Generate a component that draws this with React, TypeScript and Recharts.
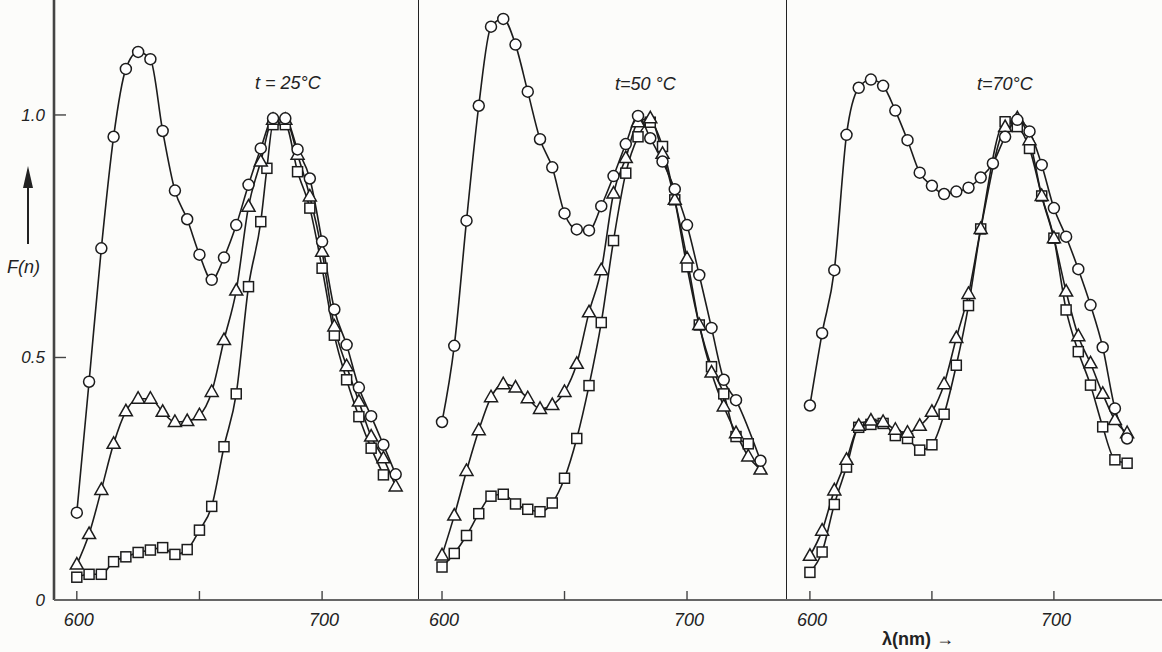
import React from 'react';
import { LineChart, Line, XAxis, YAxis, ReferenceLine } from 'recharts';

// t = 25 °C
const wl25Circle = [600, 605, 610, 615, 620, 625, 630, 635, 640, 645, 650, 655, 660, 665, 670, 675, 680, 685, 690, 695, 700, 705, 710, 715, 720, 725, 730];
const f25Circle = [0.18, 0.45, 0.725, 0.955, 1.095, 1.13, 1.115, 0.967, 0.844, 0.785, 0.712, 0.66, 0.706, 0.773, 0.856, 0.931, 0.993, 0.993, 0.929, 0.869, 0.739, 0.599, 0.526, 0.438, 0.379, 0.32, 0.259];
const wl25Triangle = [600, 605, 610, 615, 620, 625, 630, 635, 640, 645, 650, 655, 660, 665, 670, 675, 680, 685, 690, 695, 700, 705, 710, 715, 720, 725, 730];
const f25Triangle = [0.073, 0.136, 0.227, 0.322, 0.389, 0.415, 0.415, 0.388, 0.367, 0.369, 0.381, 0.429, 0.536, 0.638, 0.811, 0.904, 0.99, 0.99, 0.918, 0.832, 0.718, 0.564, 0.482, 0.409, 0.337, 0.292, 0.234];
const wl25Square = [600, 605, 610, 615, 620, 625, 630, 635, 640, 645, 650, 655, 660, 665, 670, 675, 677.5, 680, 685, 690, 695, 700, 705, 710, 715, 720, 725];
const f25Square = [0.047, 0.053, 0.053, 0.079, 0.089, 0.098, 0.103, 0.108, 0.094, 0.104, 0.144, 0.193, 0.316, 0.425, 0.646, 0.78, 0.89, 0.98, 0.98, 0.883, 0.808, 0.684, 0.546, 0.454, 0.378, 0.313, 0.258];

// t = 50 °C
const wl50Circle = [600, 605, 610, 615, 620, 625, 630, 635, 640, 645, 650, 655, 660, 665, 670, 675, 680, 685, 690, 695, 700, 705, 710, 715, 720, 730];
const f50Circle = [0.367, 0.524, 0.782, 1.019, 1.182, 1.198, 1.145, 1.048, 0.95, 0.892, 0.797, 0.764, 0.762, 0.812, 0.874, 0.94, 0.998, 0.952, 0.904, 0.847, 0.773, 0.67, 0.561, 0.454, 0.412, 0.287];
const wl50Triangle = [600, 605, 610, 615, 620, 625, 630, 635, 640, 645, 650, 655, 660, 665, 670, 675, 680, 685, 690, 695, 700, 705, 710, 715, 720, 725, 730];
const f50Triangle = [0.092, 0.174, 0.266, 0.35, 0.418, 0.445, 0.438, 0.416, 0.394, 0.402, 0.429, 0.487, 0.593, 0.68, 0.838, 0.911, 0.985, 0.993, 0.92, 0.825, 0.704, 0.567, 0.469, 0.399, 0.344, 0.296, 0.269];
const wl50Square = [600, 605, 610, 615, 620, 625, 630, 635, 640, 645, 650, 655, 660, 665, 670, 675, 680, 685, 690, 695, 700, 705, 710, 715, 720, 725];
const f50Square = [0.068, 0.096, 0.133, 0.178, 0.214, 0.218, 0.198, 0.187, 0.182, 0.2, 0.251, 0.333, 0.442, 0.572, 0.741, 0.88, 0.955, 0.985, 0.935, 0.825, 0.687, 0.567, 0.481, 0.425, 0.337, 0.322];

// t = 70 °C
const wl70Circle = [600, 605, 610, 615, 620, 625, 630, 635, 640, 645, 650, 655, 660, 665, 670, 675, 680, 685, 690, 695, 700, 705, 710, 715, 720, 725, 730];
const f70Circle = [0.401, 0.55, 0.68, 0.959, 1.056, 1.073, 1.06, 1.009, 0.948, 0.881, 0.854, 0.837, 0.842, 0.85, 0.871, 0.9, 0.955, 0.99, 0.966, 0.897, 0.808, 0.749, 0.682, 0.608, 0.521, 0.395, 0.333];
const wl70Triangle = [600, 605, 610, 615, 620, 625, 630, 635, 640, 645, 650, 655, 660, 665, 670, 680, 685, 690, 695, 700, 705, 710, 715, 720, 725, 730];
const f70Triangle = [0.091, 0.143, 0.226, 0.289, 0.359, 0.37, 0.367, 0.351, 0.345, 0.359, 0.388, 0.445, 0.54, 0.631, 0.765, 0.975, 0.993, 0.948, 0.833, 0.746, 0.636, 0.544, 0.488, 0.425, 0.371, 0.344];
const wl70Square = [600, 605, 610, 615, 620, 625, 630, 635, 640, 645, 650, 655, 660, 665, 670, 680, 685, 690, 695, 700, 705, 710, 715, 720, 725, 730];
const f70Square = [0.057, 0.099, 0.197, 0.274, 0.356, 0.362, 0.364, 0.339, 0.333, 0.309, 0.32, 0.383, 0.484, 0.607, 0.765, 0.986, 0.976, 0.931, 0.833, 0.746, 0.598, 0.512, 0.443, 0.357, 0.289, 0.282];

const xTicks = [600, 650, 700];
const xLabels = [600, 700];
const yTicks = [0, 0.5, 1.0];

const INK = '#1c1c1c';
const FONT = '"Liberation Sans", Arial, sans-serif';

const zip = (xs: number[], ys: number[]) => xs.map((nm, i) => ({ nm, f: ys[i] }));

const circleDot = (p: any) => (
  <circle key={`c${p.index}`} cx={p.cx} cy={p.cy} r={5.5} fill="#fff" stroke={INK} strokeWidth={1.5} />
);
const triangleDot = (p: any) => (
  <polygon
    key={`t${p.index}`}
    points={`${p.cx},${p.cy - 7} ${p.cx - 6.5},${p.cy + 4.5} ${p.cx + 6.5},${p.cy + 4.5}`}
    fill="#fff"
    stroke={INK}
    strokeWidth={1.5}
  />
);
const squareDot = (p: any) => (
  <rect key={`s${p.index}`} x={p.cx - 5} y={p.cy - 5} width={10} height={10} fill="#fff" stroke={INK} strokeWidth={1.5} />
);

const XTick = (p: any) => {
  const v = p.payload.value;
  return (
    <g>
      <line x1={p.x} x2={p.x} y1={p.y} y2={p.y - 9} stroke="#444" strokeWidth={1.4} />
      {xLabels.includes(v) && (
        <text x={p.x + 2} y={p.y + 26} textAnchor="middle" fontFamily={FONT} fontStyle="italic" fontSize={18} fill="#222">
          {v}
        </text>
      )}
    </g>
  );
};

const YTick = (p: any) => {
  const v = p.payload.value;
  return (
    <g>
      {v > 0 && <line x1={p.x} x2={p.x + 12} y1={p.y} y2={p.y} stroke="#444" strokeWidth={1.4} />}
      <text x={p.x - 9} y={p.y} dy={6} textAnchor="end" fontFamily={FONT} fontStyle="italic" fontSize={17} fill="#222">
        {v === 0 ? '0' : v.toFixed(1)}
      </text>
    </g>
  );
};

type PanelProps = {
  left: number;
  width: number;
  yWidth: number;
  domain: [number, number];
  circles: { nm: number; f: number }[];
  triangles: { nm: number; f: number }[];
  squares: { nm: number; f: number }[];
};

function Panel({ left, width, yWidth, domain, circles, triangles, squares }: PanelProps) {
  const first = yWidth > 0;
  return (
    <div style={{ position: 'absolute', left, top: 0 }}>
      <LineChart width={width} height={652} margin={{ top: 0, right: 0, bottom: 0, left: 0 }}>
        <XAxis
          type="number"
          dataKey="nm"
          domain={domain}
          allowDataOverflow
          ticks={xTicks}
          height={52}
          tickSize={0}
          tickMargin={0}
          tickLine={false}
          tick={<XTick />}
          axisLine={{ stroke: '#666', strokeWidth: 1.8 }}
        />
        <YAxis
          type="number"
          domain={[0, 1.237]}
          allowDataOverflow
          ticks={yTicks}
          width={yWidth}
          tickSize={0}
          tickMargin={0}
          tickLine={false}
          tick={first ? <YTick /> : false}
          axisLine={false}
        />
        <ReferenceLine x={domain[0]} stroke={first ? '#444' : '#222'} strokeWidth={first ? 2.6 : 2} ifOverflow="visible" />
        <Line data={squares} dataKey="f" type="monotone" stroke={INK} strokeWidth={1.6} dot={squareDot} isAnimationActive={false} />
        <Line data={triangles} dataKey="f" type="monotone" stroke={INK} strokeWidth={1.6} dot={triangleDot} isAnimationActive={false} />
        <Line data={circles} dataKey="f" type="monotone" stroke={INK} strokeWidth={1.6} dot={circleDot} isAnimationActive={false} />
      </LineChart>
    </div>
  );
}

export default function App() {
  return (
    <div style={{ position: 'absolute', left: 0, top: 0, width: 1162, height: 652, background: '#fcfcfa', overflow: 'hidden' }}>
      <Panel
        left={0}
        width={418}
        yWidth={54}
        domain={[590.7, 739.1]}
        circles={zip(wl25Circle, f25Circle)}
        triangles={zip(wl25Triangle, f25Triangle)}
        squares={zip(wl25Square, f25Square)}
      />
      <Panel
        left={418}
        width={368}
        yWidth={0}
        domain={[590.2, 740.4]}
        circles={zip(wl50Circle, f50Circle)}
        triangles={zip(wl50Triangle, f50Triangle)}
        squares={zip(wl50Square, f50Square)}
      />
      <Panel
        left={786}
        width={376}
        yWidth={0}
        domain={[590.2, 744.3]}
        circles={zip(wl70Circle, f70Circle)}
        triangles={zip(wl70Triangle, f70Triangle)}
        squares={zip(wl70Square, f70Square)}
      />
      <svg width={1162} height={652} style={{ position: 'absolute', left: 0, top: 0, pointerEvents: 'none' }}>
        <g fontFamily={FONT} fill="#222">
          <line x1={28} y1={244} x2={28} y2={184} stroke="#222" strokeWidth={2} />
          <polygon points="28,166 23,188 33,188" fill="#222" />
          <text x={7} y={273} fontSize={18} fontStyle="italic">F(n)</text>
          <text x={255} y={89} fontSize={18} fontStyle="italic">t = 25°C</text>
          <text x={615} y={90} fontSize={18} fontStyle="italic">t=50 °C</text>
          <text x={977} y={90} fontSize={18} fontStyle="italic">t=70°C</text>
          <text x={882} y={645} fontSize={18} fontWeight="bold">λ(nm) →</text>
        </g>
      </svg>
    </div>
  );
}
